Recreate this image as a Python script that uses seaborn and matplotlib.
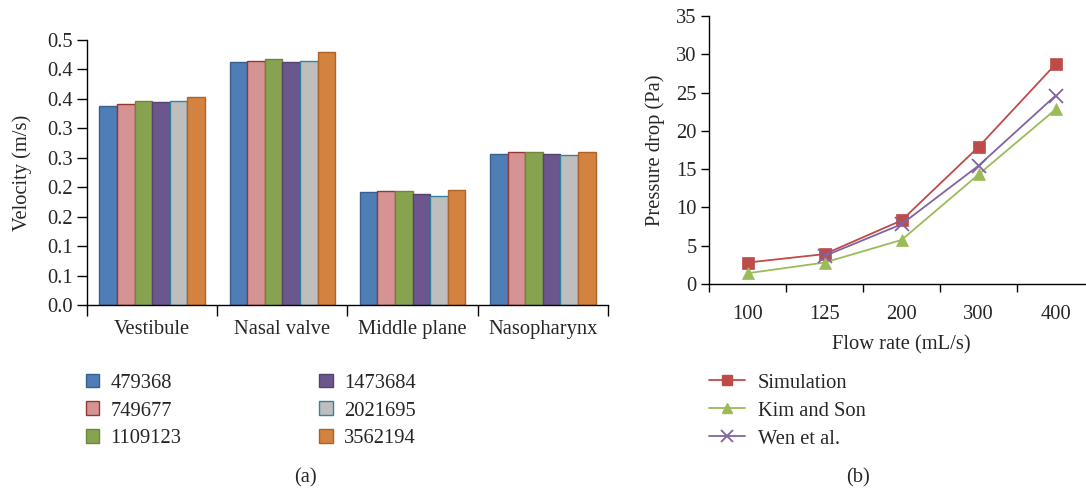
import numpy as np
import pandas as pd
import matplotlib
matplotlib.use("Agg")
import matplotlib.pyplot as plt
import seaborn as sns
from matplotlib.patches import Patch
from matplotlib.lines import Line2D

# ---------------- data ----------------
regions = ["Vestibule", "Nasal valve", "Middle plane", "Nasopharynx"]
meshes = ["479368", "749677", "1109123", "1473684", "2021695", "3562194"]
vel_479368 = [0.338, 0.412, 0.192, 0.257]
vel_749677 = [0.342, 0.414, 0.194, 0.260]
vel_1109123 = [0.347, 0.417, 0.194, 0.260]
vel_1473684 = [0.344, 0.413, 0.188, 0.256]
vel_2021695 = [0.347, 0.415, 0.186, 0.255]
vel_3562194 = [0.354, 0.429, 0.196, 0.260]
vel_ticks = [0.0, 0.05, 0.10, 0.15, 0.20, 0.25, 0.30, 0.35, 0.40, 0.45]
vel_ticklabels = ["0.0", "0.1", "0.1", "0.2", "0.2", "0.3", "0.3", "0.4", "0.4", "0.5"]

flow_rates = ["100", "125", "200", "300", "400"]
sources = ["Simulation", "Kim and Son", "Wen et al."]
dp_simulation = [2.8, 3.9, 8.3, 17.9, 28.7]
dp_kim_son = [1.4, 2.8, 5.75, 14.3, 22.8]
dp_wen = [np.nan, 3.65, 7.8, 15.45, 24.6]

# ---------------- styling ----------------
bar_fill = ["#4F7DB6", "#D69394", "#87A34F", "#6B578D", "#BEBEBE", "#D4823F"]
bar_edge = ["#3A5F8E", "#943634", "#6E863C", "#54426F", "#31849B", "#AC6428"]
line_colors = ["#BE4B48", "#9BBB59", "#8064A2"]
line_markers = ["s", "^", "x"]

sns.set_theme(style="ticks")
plt.rcParams["font.family"] = ["Liberation Serif", "DejaVu Serif"]
plt.rcParams["axes.linewidth"] = 1.0
FS = 14.8

fig = plt.figure(figsize=(10.86, 4.92), dpi=100)

# ---------------- (a) bar chart ----------------
ax1 = fig.add_axes([0.0801, 0.380, 0.4797, 0.5386])
vel_series = [vel_479368, vel_749677, vel_1109123, vel_1473684, vel_2021695, vel_3562194]
df_a = pd.DataFrame({
    "region": np.repeat([regions], len(meshes), axis=0).ravel(),
    "mesh": np.repeat(meshes, len(regions)),
    "velocity": np.concatenate(vel_series),
})
sns.barplot(data=df_a, x="region", y="velocity", hue="mesh", order=regions,
            hue_order=meshes, palette=bar_fill, width=0.81, saturation=1,
            ax=ax1, legend=False)
for cont, ec in zip(ax1.containers, bar_edge):
    for p in cont.patches:
        p.set_edgecolor(ec)
        p.set_linewidth(1.0)

ax1.set_ylim(0, 0.45)
ax1.set_xlim(-0.5, len(regions) - 0.5)
ax1.set_yticks(vel_ticks)
ax1.set_yticklabels(vel_ticklabels, fontsize=FS)
ax1.set_xticks(np.arange(len(regions)))
ax1.set_xticklabels(regions, fontsize=FS)
ax1.tick_params(axis="x", length=0, pad=11)
ax1.set_xticks(np.arange(-0.5, len(regions)), minor=True)
ax1.tick_params(axis="x", which="minor", length=8, width=1.0, direction="out", color="black")
ax1.tick_params(axis="y", length=7, width=1.0, color="black", pad=3)
ax1.set_xlabel("")
ax1.set_ylabel("Velocity (m/s)", fontsize=FS, labelpad=11)
for s in ["top", "right"]:
    ax1.spines[s].set_visible(False)
for s in ["left", "bottom"]:
    ax1.spines[s].set_color("black")

handles_a = [Patch(facecolor=f, edgecolor=e, linewidth=1.0, label=m)
             for f, e, m in zip(bar_fill, bar_edge, meshes)]
leg_a = fig.legend(handles=handles_a, loc="upper left", ncol=2,
                   bbox_to_anchor=(0.062, 0.278), frameon=False, fontsize=FS,
                   handlelength=0.65, handleheight=0.65, handletextpad=0.55,
                   columnspacing=6.7, labelspacing=0.42)
fig.text(0.281, 0.028, "(a)", fontsize=FS, ha="center", va="center")

# ---------------- (b) line chart ----------------
ax2 = fig.add_axes([0.6529, 0.4228, 0.3545, 0.5447])
dp_series = [dp_simulation, dp_kim_son, dp_wen]
df_b = pd.DataFrame({
    "flow": np.tile(flow_rates, len(sources)),
    "source": np.repeat(sources, len(flow_rates)),
    "dp": np.concatenate(dp_series),
})
df_b["pos"] = pd.Categorical(df_b["flow"], categories=flow_rates).codes
df_b = df_b.dropna()
for src, col, mk in zip(sources, line_colors, line_markers):
    sub = df_b[df_b["source"] == src]
    if mk == "x":
        sns.lineplot(data=sub, x="pos", y="dp", color=col, marker="x",
                     markersize=10, markeredgewidth=1.3, markeredgecolor=col,
                     linewidth=1.3, ax=ax2)
    else:
        sns.lineplot(data=sub, x="pos", y="dp", color=col, marker=mk,
                     markersize=8 if mk == "s" else 8.5, markeredgecolor=col,
                     markeredgewidth=0.5, linewidth=1.3, ax=ax2)

ax2.set_xlim(-0.5, len(flow_rates) - 0.5)
ax2.set_ylim(0, 35)
ax2.set_yticks(np.arange(0, 36, 5))
ax2.set_yticklabels([str(v) for v in range(0, 36, 5)], fontsize=FS)
ax2.set_xticks(np.arange(len(flow_rates)))
ax2.set_xticklabels(flow_rates, fontsize=FS)
ax2.tick_params(axis="x", length=0, pad=15)
ax2.set_xticks(np.arange(-0.5, len(flow_rates)), minor=True)
ax2.tick_params(axis="x", which="minor", length=6, width=1.0, direction="out", color="black")
ax2.tick_params(axis="y", length=6, width=1.0, color="black", pad=3)
ax2.set_xlabel("Flow rate (mL/s)", fontsize=FS, labelpad=8)
ax2.set_ylabel("Pressure drop (Pa)", fontsize=FS, labelpad=8)
for s in ["top", "right"]:
    ax2.spines[s].set_visible(False)
for s in ["left", "bottom"]:
    ax2.spines[s].set_color("black")

handles_b = []
for src, col, mk in zip(sources, line_colors, line_markers):
    if mk == "x":
        handles_b.append(Line2D([], [], color=col, marker="x", markersize=8,
                                markeredgewidth=1.3, linewidth=1.3, label=src))
    else:
        handles_b.append(Line2D([], [], color=col, marker=mk, markersize=6.5,
                                markeredgecolor=col, linewidth=1.3, label=src))
fig.legend(handles=handles_b, loc="upper left", bbox_to_anchor=(0.636, 0.279),
           frameon=False, fontsize=FS, handlelength=1.75, handletextpad=0.6,
           labelspacing=0.42)
fig.text(0.790, 0.028, "(b)", fontsize=FS, ha="center", va="center")

fig.savefig("out.png", dpi=100)
